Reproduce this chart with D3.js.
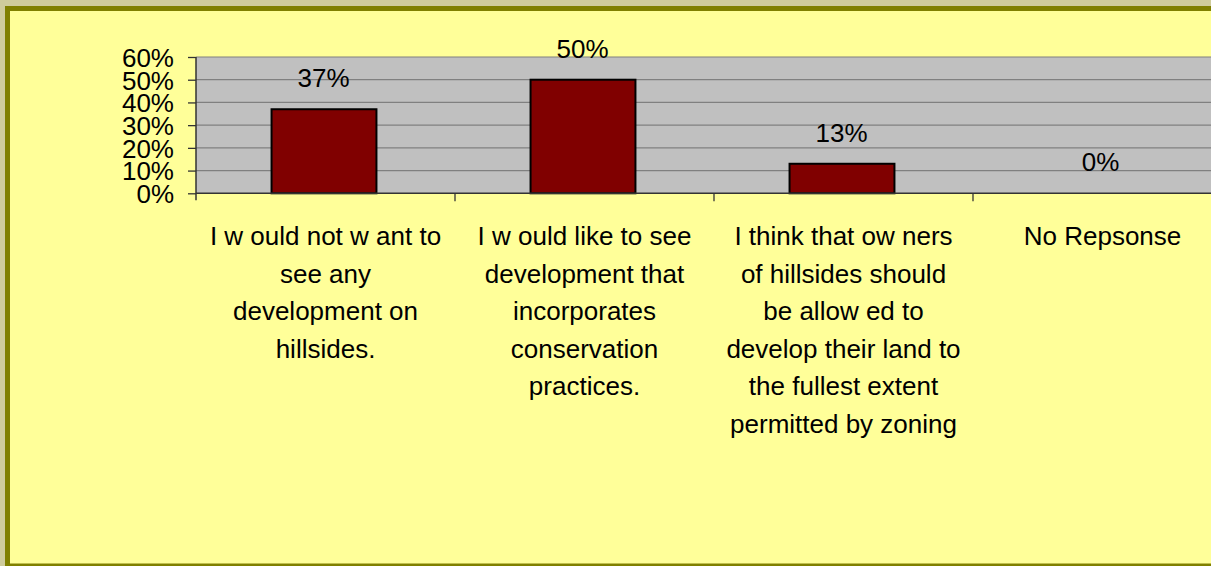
<!DOCTYPE html>
<html>
<head>
<meta charset="utf-8">
<script src="https://cdn.jsdelivr.net/npm/d3@7"></script>
<style>
  html, body { margin: 0; padding: 0; background: #cfcc9c; }
  svg { display: block; }
  text { font-family: "Liberation Sans", Arial, sans-serif; fill: #000; }
</style>
</head>
<body>
<div id="chart"></div>
<script>
    var svgWidth = 1211;
    var svgHeight = 566;

    // categories, as wrapped in the picture
    var categories = ["notWant", "conservation", "fullest", "noResponse"];
    var categoryLines = [
      ["I w ould not w ant to", "see any", "development on", "hillsides."],
      ["I w ould like to see", "development that", "incorporates", "conservation", "practices."],
      ["I think that ow ners", "of hillsides should", "be allow ed to", "develop their land to", "the fullest extent", "permitted by zoning"],
      ["No Repsonse"]
    ];
    var values = [0.37, 0.50, 0.13, 0.00];
    var yTicks = [0, 0.1, 0.2, 0.3, 0.4, 0.5, 0.6];

    var plot = { left: 196, top: 57, bottom: 193.3, right: 1232 };

    var svg = d3.select("#chart")
      .append("svg")
      .attr("width", svgWidth)
      .attr("height", svgHeight);

    // frame: tan outside, olive border, yellow inside
    svg.append("rect")
      .attr("x", 5).attr("y", 6)
      .attr("width", svgWidth).attr("height", 563.5 - 6 + 3)
      .attr("fill", "#808000");
    svg.append("rect")
      .attr("x", 10).attr("y", 11)
      .attr("width", svgWidth).attr("height", 563.5 - 11)
      .attr("fill", "#ffff99");

    // scales
    var xScale = d3.scaleBand()
      .domain(categories)
      .range([plot.left, plot.right]);

    var yScale = d3.scaleLinear()
      .domain([0, 0.6])
      .range([plot.bottom, plot.top]);

    // plot area
    svg.append("rect")
      .attr("x", plot.left)
      .attr("y", plot.top)
      .attr("width", plot.right - plot.left)
      .attr("height", plot.bottom - plot.top)
      .attr("fill", "#c0c0c0");

    // gridlines
    svg.append("g")
      .selectAll("line")
      .data(yTicks.slice(1))
      .enter()
      .append("line")
      .attr("x1", plot.left)
      .attr("x2", plot.right)
      .attr("y1", d => yScale(d))
      .attr("y2", d => yScale(d))
      .attr("stroke", "#808080")
      .attr("stroke-width", 1.2);

    // bars
    var barFrac = 0.405;
    svg.append("g")
      .selectAll("rect")
      .data(values)
      .enter()
      .append("rect")
      .attr("x", (d, i) => xScale(categories[i]) + xScale.bandwidth() * (1 - barFrac) / 2 - 1.5)
      .attr("y", d => yScale(d))
      .attr("width", xScale.bandwidth() * barFrac)
      .attr("height", d => plot.bottom - yScale(d))
      .attr("fill", "#800000")
      .attr("stroke", d => d > 0 ? "#000" : "none")
      .attr("stroke-width", 2);

    // value labels
    svg.append("g")
      .selectAll("text")
      .data(values)
      .enter()
      .append("text")
      .attr("x", (d, i) => xScale(categories[i]) + xScale.bandwidth() / 2 - 2)
      .attr("y", d => yScale(d) - 22)
      .attr("text-anchor", "middle")
      .attr("font-size", "26px")
      .text(d => d3.format(".0%")(d));

    // y axis
    var leftAxis = d3.axisLeft(yScale)
      .tickValues(yTicks)
      .tickFormat(d3.format(".0%"))
      .tickSize(8)
      .tickPadding(14);

    var yAxis = svg.append("g")
      .attr("transform", `translate(${plot.left}, 0)`)
      .call(leftAxis);
    yAxis.select(".domain").remove();
    yAxis.selectAll(".tick line").attr("stroke", "#333").attr("stroke-width", 1.3);
    yAxis.selectAll(".tick text")
      .attr("font-size", "26px")
      .attr("dy", "0.36em")
      .style("font-family", "'Liberation Sans', Arial, sans-serif")
      .attr("fill", "#000");

    svg.append("line")
      .attr("x1", plot.left).attr("x2", plot.left)
      .attr("y1", plot.top).attr("y2", plot.bottom + 7)
      .attr("stroke", "#333").attr("stroke-width", 1.5);

    // x axis line and category ticks at band edges
    svg.append("line")
      .attr("x1", plot.left).attr("x2", plot.right)
      .attr("y1", plot.bottom).attr("y2", plot.bottom)
      .attr("stroke", "#333").attr("stroke-width", 1.5);

    svg.append("g")
      .selectAll("line")
      .data(categories.slice(1))
      .enter()
      .append("line")
      .attr("x1", d => xScale(d))
      .attr("x2", d => xScale(d))
      .attr("y1", plot.bottom)
      .attr("y2", plot.bottom + 8)
      .attr("stroke", "#333")
      .attr("stroke-width", 1.3);

    // category labels
    var labelGroups = svg.append("g")
      .selectAll("text")
      .data(categories)
      .enter()
      .append("text")
      .attr("x", d => xScale(d) + xScale.bandwidth() / 2)
      .attr("y", 245)
      .attr("text-anchor", "middle")
      .attr("font-size", "26px");

    labelGroups.each(function(d, i) {
      var t = d3.select(this);
      var cx = xScale(d) + xScale.bandwidth() / 2;
      categoryLines[i].forEach(function(line, j) {
        t.append("tspan")
          .attr("x", cx)
          .attr("y", 245 + j * 37.6)
          .text(line);
      });
    });
</script>
</body>
</html>
